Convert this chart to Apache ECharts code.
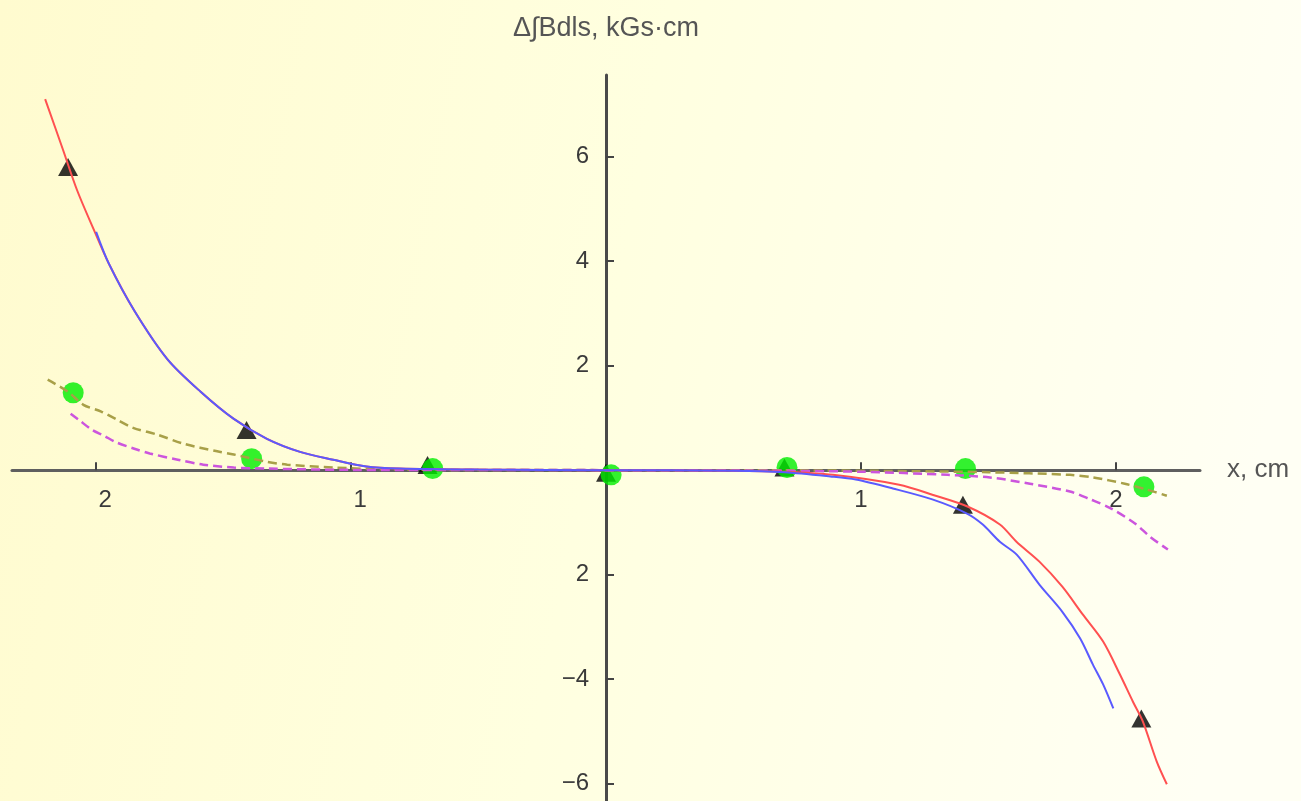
<!DOCTYPE html>
<html>
<head>
<meta charset="utf-8">
<script src="https://cdn.jsdelivr.net/npm/echarts@6/dist/echarts.min.js"></script>
<style>
html,body{margin:0;padding:0;}
#c{width:1301px;height:801px;}
</style>
</head>
<body>
<div id="c"></div>
<script>
// ---- data ----
const xTicks = [-2, -1, 1, 2];
const yTicks = [-6, -4, -2, 2, 4, 6];

const triangles = [[-2.11,5.80],[-1.41,0.77],[-0.70,0.10],[0,-0.05],[0.70,0.05],[1.40,-0.66],[2.10,-4.75]];
const circles = [[-2.09,1.48],[-1.39,0.22],[-0.68,0.03],[0.02,-0.09],[0.71,0.05],[1.41,0.03],[2.11,-0.32]];

const redLine = [[-2.20,7.10],[-2.13,6.13],[-2.075,5.36],[-2.01,4.61],[-1.95,3.95],[-1.85,3.05],[-1.72,2.12],[-1.59,1.50],
  [-1.46,0.98],[-1.33,0.60],[-1.20,0.35],[-1.07,0.20],[-0.94,0.07],[-0.81,0.03],[-0.5,0.01],[0,0],[0.5,-0.01],[0.7,-0.03],
  [0.89,-0.09],[1.15,-0.28],[1.28,-0.47],[1.42,-0.70],[1.545,-1.04],[1.61,-1.37],[1.70,-1.75],[1.79,-2.23],[1.87,-2.76],
  [1.95,-3.28],[2.016,-3.91],[2.067,-4.43],[2.106,-4.81],[2.16,-5.57],[2.20,-6.01]];
const blueLine = [[-2.00,4.56],[-1.95,3.95],[-1.85,3.05],[-1.72,2.12],[-1.59,1.50],[-1.46,0.98],[-1.33,0.60],[-1.20,0.35],[-1.07,0.20],
  [-0.94,0.07],[-0.81,0.03],[-0.5,0.01],[0,0],[0.5,-0.01],[0.7,-0.04],[0.88,-0.12],[0.98,-0.18],[1.125,-0.35],[1.28,-0.56],
  [1.416,-0.83],[1.478,-1.04],[1.545,-1.37],[1.612,-1.62],[1.70,-2.19],[1.79,-2.71],[1.86,-3.22],[1.91,-3.72],[1.95,-4.10],[1.99,-4.56]];
const oliveLine = [[-2.19,1.73],[-2.11,1.50],[-2.05,1.25],[-1.98,1.12],[-1.92,0.97],[-1.855,0.81],[-1.76,0.68],[-1.66,0.51],
  [-1.525,0.36],[-1.46,0.30],[-1.33,0.16],[-1.25,0.105],[-1.07,0.05],[-0.81,0.01],[0,0],[0.8,-0.005],[1.2,-0.02],[1.5,-0.04],
  [1.82,-0.09],[1.91,-0.14],[2.035,-0.26],[2.12,-0.37],[2.20,-0.49]];
const purpleLine = [[-2.10,1.08],[-2.07,0.97],[-2.016,0.77],[-1.97,0.66],[-1.92,0.53],[-1.85,0.41],[-1.79,0.32],[-1.68,0.20],
  [-1.58,0.105],[-1.46,0.05],[-1.33,0.03],[-1.0,0.005],[0,0],[0.6,-0.01],[1.0,-0.03],[1.34,-0.09],[1.506,-0.14],[1.663,-0.26],
  [1.82,-0.41],[1.90,-0.56],[1.976,-0.72],[2.075,-1.02],[2.133,-1.27],[2.204,-1.52]];

// ---- chart ----
const W = 1301, H = 801;
const G = {left:12, right:101, top:75, bottom:0};
const xMin = -2.33, xMax = 2.33, yMin = -6.33, yMax = 7.56;
// pixel offsets that move the axes onto the zero lines (layout only)
const xAxisOffset = -(H - G.bottom - G.top) * (0 - yMin) / (yMax - yMin);
const yAxisOffset = -(W - G.left - G.right) * (0 - xMin) / (xMax - xMin);

const chart = echarts.init(document.getElementById('c'), null, {renderer:'canvas'});
const FF = 'Liberation Sans, Arial, sans-serif';
const lineCommon = {smooth:0.3, symbol:'none', z:3};
chart.setOption({
  animation:false,
  backgroundColor:{type:'linear',x:0,y:0,x2:1,y2:0.3,colorStops:[
    {offset:0,color:'#fffbcf'},{offset:0.5,color:'#ffffe0'},{offset:1,color:'#fffff4'}]},
  grid:{left:G.left,right:G.right,top:G.top,bottom:G.bottom,containLabel:false,outerBoundsMode:'none'},
  xAxis:{type:'value',min:xMin,max:xMax,position:'bottom',offset:xAxisOffset,
    name:'x, cm',nameLocation:'end',nameGap:27,
    nameTextStyle:{color:'#555',fontSize:26,fontFamily:FF},
    axisLine:{onZero:false,lineStyle:{color:'#5f5f5f',width:3}},
    axisTick:{inside:true,length:8,customValues:xTicks,lineStyle:{color:'#444',width:2}},
    axisLabel:{customValues:xTicks,margin:18,color:'#3a3a3a',fontSize:24,fontFamily:FF,
      formatter:v=> v<0 ? '{p|'+Math.abs(v)+'}' : String(v),
      rich:{p:{padding:[0,0,0,18],fontSize:24,color:'#3a3a3a',fontFamily:FF}}},
    splitLine:{show:false}},
  yAxis:{type:'value',min:yMin,max:yMax,position:'left',offset:yAxisOffset,
    name:'Δ∫Bdls, kGs·cm',nameLocation:'end',nameGap:33,
    nameTextStyle:{color:'#555',fontSize:27,fontFamily:FF},
    axisLine:{onZero:false,lineStyle:{color:'#4a4a4a',width:3}},
    axisTick:{inside:true,length:8,customValues:yTicks,lineStyle:{color:'#444',width:2}},
    axisLabel:{customValues:yTicks,margin:17,color:'#3a3a3a',fontSize:24,fontFamily:FF,
      formatter:v=> v===-2 ? '2' : (v<0 ? '−'+Math.abs(v) : String(v))},
    splitLine:{show:false}},
  series:[
    {type:'scatter',data:triangles,symbol:'triangle',symbolSize:[20,18],itemStyle:{color:'#000'},z:2},
    {type:'scatter',data:circles,symbol:'circle',symbolSize:21,itemStyle:{color:'#00ee00'},z:2},
    Object.assign({type:'line',data:oliveLine,lineStyle:{color:'#a8a048',width:2.5,type:[9,5]}},lineCommon),
    Object.assign({type:'line',data:purpleLine,lineStyle:{color:'#cc55dd',width:2.5,type:[9,5]}},lineCommon),
    Object.assign({type:'line',data:redLine,lineStyle:{color:'#ff5050',width:2}},lineCommon),
    Object.assign({type:'line',data:blueLine,lineStyle:{color:'#5a5aff',width:2}},lineCommon)
  ]
});
</script>
</body>
</html>
